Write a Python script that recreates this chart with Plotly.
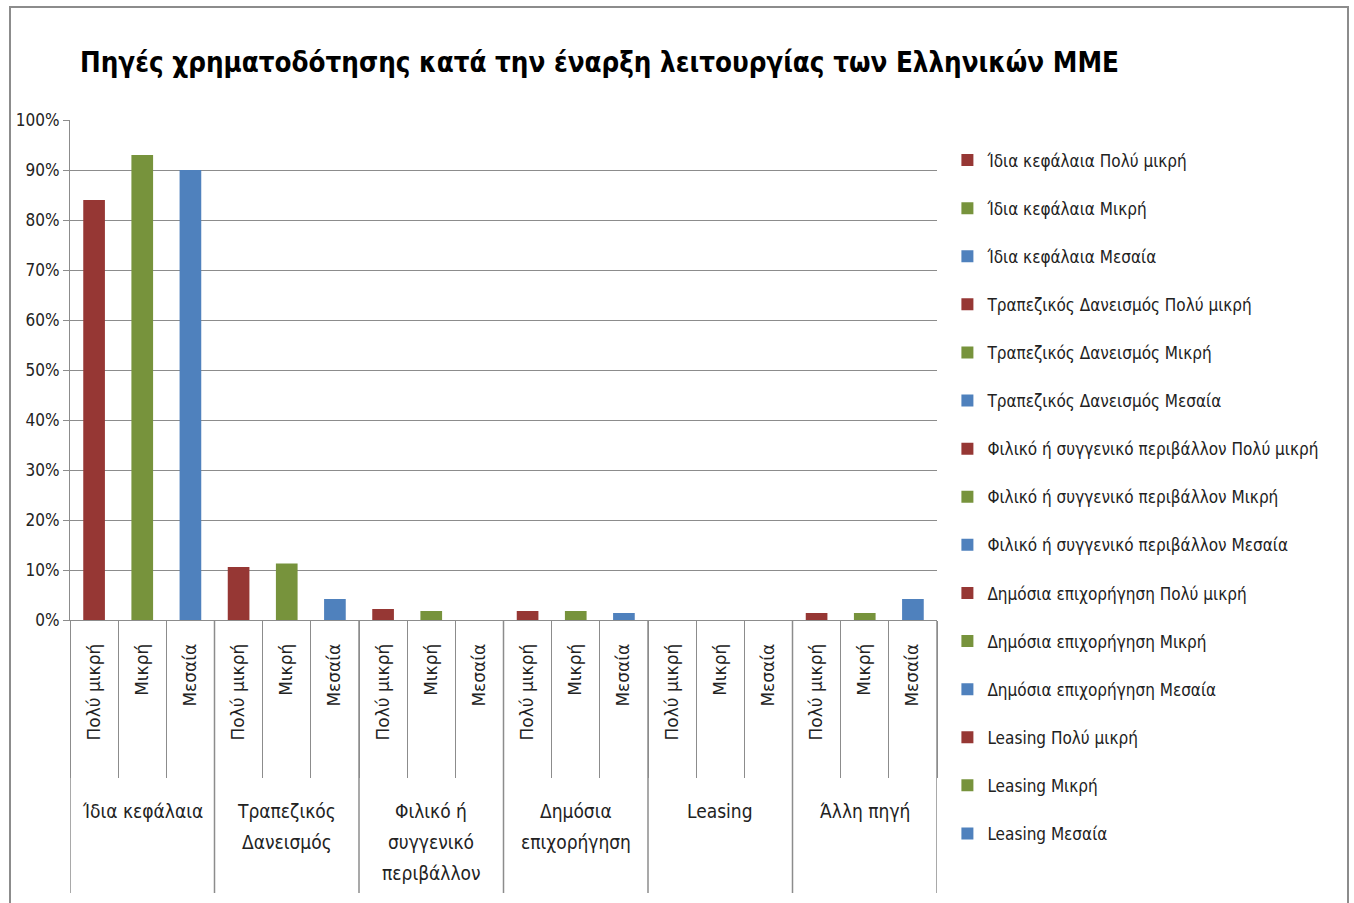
import plotly.graph_objects as go

# sources of funding at start-up, by firm size
groups = ["Ίδια κεφάλαια", "Τραπεζικός<br>Δανεισμός", "Φιλικό ή<br>συγγενικό<br>περιβάλλον",
          "Δημόσια<br>επιχορήγηση", "Leasing", "Άλλη πηγή"]
legend_groups = ["Ίδια κεφάλαια", "Τραπεζικός Δανεισμός", "Φιλικό ή συγγενικό περιβάλλον",
                 "Δημόσια επιχορήγηση", "Leasing", "Άλλη πηγή"]
sizes = ["Πολύ μικρή", "Μικρή", "Μεσαία"]

very_small = [0.84, 0.106, 0.022, 0.018, 0.0, 0.014]
small = [0.93, 0.113, 0.018, 0.018, 0.0, 0.014]
medium = [0.90, 0.042, 0.0, 0.014, 0.0, 0.042]

colors = ["#963734", "#77933C", "#4F81BD"]
narrow = "DejaVu Sans Condensed, Liberation Sans Narrow, Arial Narrow, sans-serif"
wide = "DejaVu Sans, Liberation Sans, sans-serif"
grey = "#8c8c8c"

fig = go.Figure()

series = [very_small, small, medium]
n_sizes = len(sizes)
for gi, g in enumerate(legend_groups):
    for si, s in enumerate(sizes):
        fig.add_trace(go.Bar(
            x=[gi * n_sizes + si],
            y=[series[si][gi]],
            name=g + " " + s,
            marker=dict(color=colors[si], line=dict(width=0)),
            width=0.45,
            legendgroup=str(gi * n_sizes + si),
            showlegend=gi < 5,
        ))

n_cat = len(groups) * n_sizes

fig.update_layout(
    width=1354, height=903,
    barmode="overlay",
    plot_bgcolor="white", paper_bgcolor="white",
    margin=dict(l=70, r=417, t=120, b=283),
    font=dict(family=narrow, size=16, color="#222"),
    title=dict(
        text="<b>Πηγές χρηματοδότησης κατά την έναρξη λειτουργίας των Ελληνικών ΜΜΕ</b>",
        x=80 / 1354, xanchor="left", xref="container",
        y=1 - 62 / 903, yanchor="middle", yref="container",
        font=dict(family=narrow, size=27.5, color="black"),
    ),
    legend=dict(
        x=1.012, xanchor="left", y=0.955, yanchor="top",
        traceorder="grouped", tracegroupgap=23, maxheight=800,
        font=dict(family=narrow, size=17, color="#222"),
        itemwidth=30,
    ),
    showlegend=True,
)

fig.update_yaxes(
    range=[0, 1], dtick=0.1, tickformat=".0%",
    showgrid=True, gridcolor=grey, gridwidth=1,
    showline=True, linecolor=grey,
    ticks="outside", ticklen=6, tickcolor=grey,
    zeroline=False,
    tickfont=dict(family=narrow, size=17),
)
fig.update_xaxes(
    range=[-0.5, n_cat - 0.5],
    tickmode="array", tickvals=list(range(n_cat)), ticktext=sizes * len(groups),
    tickangle=-90, ticks="", ticklabelstandoff=16,
    showgrid=False, zeroline=False,
    showline=True, linecolor=grey,
    tickfont=dict(family=wide, size=17),
    minor=dict(tickmode="array", tickvals=[i - 0.5 for i in range(n_cat + 1)],
               ticks="outside", ticklen=157, tickcolor=grey, showgrid=False),
)

# group dividers and group labels under the size labels
for gi in range(len(groups) + 1):
    fig.add_shape(type="line", xref="x", yref="paper",
                  x0=gi * n_sizes - 0.5, x1=gi * n_sizes - 0.5, y0=0, y1=-(893 - 620) / 500,
                  line=dict(color=grey, width=1.5))
for gi, g in enumerate(groups):
    for li, line in enumerate(g.split("<br>")):
        fig.add_annotation(x=gi * n_sizes + (n_sizes - 1) / 2, xref="x",
                           y=-(798 - 620) / 500, yref="paper", yanchor="top",
                           yshift=-31 * li,
                           text=line, showarrow=False,
                           font=dict(family=narrow, size=19, color="#222"))

# chart frame (bottom edge falls below the page)
fig.add_shape(type="rect", xref="paper", yref="paper",
              x0=-60 / 867, x1=1 + 411 / 867, y0=-(930 - 620) / 500, y1=1 + 113 / 500,
              line=dict(color=grey, width=2), fillcolor="rgba(0,0,0,0)", layer="below")

fig.write_html("out.html", config={"displayModeBar": False},
               post_script="document.body.style.margin='0';")
